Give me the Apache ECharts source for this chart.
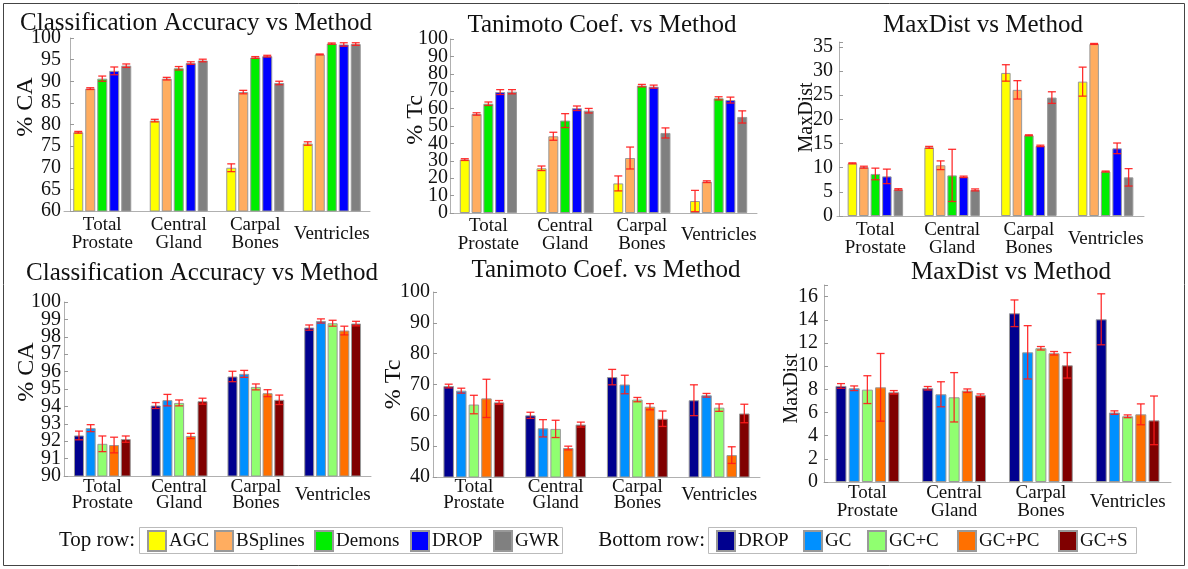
<!DOCTYPE html>
<html>
<head>
<meta charset="utf-8">
<script src="https://cdn.jsdelivr.net/npm/echarts@6/dist/echarts.min.js"></script>
<style>
html,body{margin:0;padding:0;background:#fff;}
#chart{width:1188px;height:569px;}
</style>
</head>
<body>
<div id="chart"></div>
<script>
// ---------------- DATA ----------------
const categories = ['Total\nProstate', 'Central\nGland', 'Carpal\nBones', 'Ventricles'];
const topMethods = ['AGC', 'BSplines', 'Demons', 'DROP', 'GWR'];
const bottomMethods = ['DROP', 'GC', 'GC+C', 'GC+PC', 'GC+S'];

// rows follow the method order, columns follow the categories
const topCAMean = [
  [78.2, 80.9, 70.0, 75.6],
  [88.3, 90.6, 87.5, 96.2],
  [90.6, 93.0, 95.5, 98.7],
  [92.4, 94.2, 95.8, 98.5],
  [93.6, 94.8, 89.6, 98.6]
];
const topCAErr = [
  [0.2, 0.3, 0.9, 0.4],
  [0.2, 0.3, 0.4, 0.1],
  [0.6, 0.4, 0.2, 0.15],
  [0.9, 0.3, 0.2, 0.4],
  [0.4, 0.3, 0.4, 0.3]
];
const topTcMean = [
  [30.7, 25.7, 17.0, 6.9],
  [56.9, 44.1, 31.6, 18.0],
  [62.8, 53.1, 73.2, 65.9],
  [69.5, 60.2, 72.6, 64.9],
  [69.7, 58.8, 46.0, 55.2]
];
const topTcErr = [
  [0.5, 1.3, 4.3, 6.1],
  [0.7, 2.3, 6.3, 0.5],
  [1.0, 4.0, 0.7, 0.9],
  [1.4, 1.3, 0.9, 1.7],
  [1.2, 1.3, 2.9, 3.5]
];
const topMDMean = [
  [10.9, 14.2, 29.6, 27.8],
  [10.1, 10.5, 26.1, 35.6],
  [8.7, 8.4, 16.7, 9.2],
  [8.2, 8.1, 14.5, 14.0],
  [5.5, 5.4, 24.5, 8.0]
];
const topMDErr = [
  [0.1, 0.2, 1.7, 3.0],
  [0.2, 0.9, 1.9, 0.1],
  [1.2, 5.4, 0.1, 0.1],
  [1.5, 0.15, 0.15, 1.1],
  [0.15, 0.2, 1.2, 1.8]
];
const botCAMean = [
  [92.33, 94.05, 95.72, 98.53],
  [92.75, 94.36, 95.87, 98.91],
  [91.85, 94.20, 95.12, 98.78],
  [91.78, 92.30, 94.76, 98.36],
  [92.12, 94.30, 94.38, 98.76]
];
const botCAErr = [
  [0.25, 0.17, 0.3, 0.15],
  [0.2, 0.33, 0.2, 0.12],
  [0.45, 0.17, 0.17, 0.17],
  [0.45, 0.15, 0.2, 0.25],
  [0.18, 0.17, 0.27, 0.13]
];
const botTcMean = [
  [69.5, 60.0, 72.4, 64.9],
  [68.0, 55.8, 70.0, 66.5],
  [63.5, 55.6, 65.1, 62.5],
  [65.5, 49.4, 62.8, 47.1],
  [64.2, 57.0, 58.9, 60.6]
];
const botTcErr = [
  [0.6, 1.0, 2.5, 5.0],
  [0.8, 2.8, 3.0, 0.6],
  [3.0, 2.8, 0.7, 1.2],
  [6.2, 0.6, 1.0, 2.7],
  [0.6, 0.8, 2.5, 3.0]
];
const botMDMean = [
  [8.29, 8.09, 14.56, 14.04],
  [8.09, 7.57, 11.19, 5.99],
  [7.97, 7.31, 11.54, 5.67],
  [8.17, 7.88, 11.11, 5.84],
  [7.74, 7.48, 10.07, 5.32]
];
const botMDErr = [
  [0.2, 0.15, 1.15, 2.2],
  [0.2, 1.08, 2.3, 0.15],
  [1.2, 2.13, 0.15, 0.12],
  [2.92, 0.15, 0.15, 0.9],
  [0.15, 0.12, 1.1, 2.1]
];

// ---------------- STYLE / LAYOUT ----------------
const FONT = 'Liberation Serif';
const topColors = ['#ffff00', '#ffad60', '#00ee00', '#0000ff', '#808080'];
const botColors = ['#00008f', '#0090ff', '#90ff70', '#ff7000', '#800000'];

const panels = [
  {title: 'Classification Accuracy vs Method', tx: 196, ty: 23,
   grid: {left: 64, top: 38, width: 306, height: 173}, axisOffset: -6,
   min: 60, max: 100, interval: 5, yName: '% CA', nameSize: 24, nameGap: 32, namePad: [0, 0, 0, 35],
   labelMargin: 9, xMargin: 23, xLine: 18, barWidth: 10, gap: 0.2,
   mean: topCAMean, err: topCAErr, methods: topMethods, colors: topColors, suffix: ''},
  {title: 'Tanimoto Coef. vs Method', tx: 602, ty: 25,
   grid: {left: 450, top: 39, width: 307, height: 174}, axisOffset: 0,
   min: 0, max: 100, interval: 10, yName: '% Tc', nameSize: 24, nameGap: 22, namePad: [0, 0, 0, 12],
   labelMargin: 2, xMargin: 22, xLine: 18, barWidth: 10, gap: 0.18,
   mean: topTcMean, err: topTcErr, methods: topMethods, colors: topColors, suffix: ''},
  {title: 'MaxDist vs Method', tx: 983, ty: 25,
   grid: {left: 837, top: 42, width: 307, height: 174}, axisOffset: -2,
   min: 0, max: 36, interval: 5, yName: 'MaxDist', nameSize: 20, nameGap: 22, namePad: [0, 0, 0, 23],
   labelMargin: 6, xMargin: 23, xLine: 18, barWidth: 9.5, gap: 0.21,
   mean: topMDMean, err: topMDErr, methods: topMethods, colors: topColors, suffix: ''},
  {title: 'Classification Accuracy vs Method', tx: 202, ty: 273,
   grid: {left: 64, top: 302, width: 307, height: 174}, axisOffset: 0,
   min: 90, max: 100, interval: 1, yName: '% CA', nameSize: 24, nameGap: 25, namePad: [0, 0, 0, 34],
   labelMargin: 3, xMargin: 19, xLine: 16, barWidth: 10, gap: 0.17,
   mean: botCAMean, err: botCAErr, methods: bottomMethods, colors: botColors, suffix: ' '},
  {title: 'Tanimoto Coef. vs Method', tx: 606, ty: 270,
   grid: {left: 433, top: 292, width: 327, height: 185}, axisOffset: 0,
   min: 40, max: 100, interval: 10, yName: '% Tc', nameSize: 24, nameGap: 27, namePad: [0, 0, 0, 0],
   labelMargin: 3, xMargin: 18, xLine: 16, barWidth: 10.5, gap: 0.2,
   mean: botTcMean, err: botTcErr, methods: bottomMethods, colors: botColors, suffix: ' '},
  {title: 'MaxDist vs Method', tx: 1011, ty: 272,
   grid: {left: 824, top: 285, width: 347, height: 197}, axisOffset: 0,
   min: 0, max: 17, interval: 2, yName: 'MaxDist', nameSize: 20, nameGap: 22, namePad: [0, 10, 0, 0],
   labelMargin: 6, xMargin: 20, xLine: 18, barWidth: 11, gap: 0.2,
   mean: botMDMean, err: botMDErr, methods: bottomMethods, colors: botColors, suffix: ' '}
];

const topLegendX = [147, 214, 314, 410, 493];
const botLegendX = [716, 803, 867, 957, 1058];

// ---------------- BUILD ----------------
const option = {
  animation: false,
  backgroundColor: '#ffffff',
  title: [], grid: [], xAxis: [], yAxis: [], series: [], legend: [], graphic: []
};

const labelText = {fontFamily: FONT, fontSize: 20, color: '#111'};

panels.forEach((p, gi) => {
  option.title.push({
    text: p.title, left: p.tx, top: p.ty, textAlign: 'center', textVerticalAlign: 'middle', padding: 0,
    textStyle: {fontFamily: FONT, fontSize: 25, fontWeight: 'normal', color: '#111'}
  });
  option.grid.push(Object.assign({containLabel: false, outerBoundsMode: 'none'}, p.grid));
  option.xAxis.push({
    type: 'category', gridIndex: gi, data: categories,
    axisLine: {show: true, lineStyle: {color: '#b0b0b0', width: 1}},
    axisTick: {show: false},
    splitLine: {show: false},
    axisLabel: {interval: 0, margin: p.xMargin, verticalAlign: 'middle', lineHeight: p.xLine,
      fontFamily: FONT, fontSize: 19, color: '#111'}
  });
  const iv = p.interval;
  const onTick = v => Math.abs(v / iv - Math.round(v / iv)) < 1e-6;
  const isEnd = v => Math.abs(v - p.min) < 1e-9 || Math.abs(v - p.max) < 1e-9;
  // primary axis: line, ticks, name and the two end labels
  option.yAxis.push({
    type: 'value', gridIndex: gi, position: 'left', min: p.min, max: p.max, interval: iv, offset: p.axisOffset,
    name: p.yName, nameLocation: 'middle', nameRotate: 90, nameGap: p.nameGap, nameMoveOverlap: false,
    nameTextStyle: {fontFamily: FONT, fontSize: p.nameSize, color: '#111', padding: p.namePad},
    axisLine: {show: true, lineStyle: {color: '#b0b0b0', width: 1}},
    axisTick: {show: true, inside: true, length: 4, lineStyle: {color: '#999'}},
    splitLine: {show: false},
    axisLabel: Object.assign({margin: p.labelMargin, showMinLabel: true, showMaxLabel: true,
      formatter: v => (isEnd(v) && onTick(v) ? String(v) : '')}, labelText)
  });
  // companion axis on the same scale: the inner tick labels
  option.yAxis.push({
    type: 'value', gridIndex: gi, position: 'left', min: p.min, max: p.max, interval: iv, offset: p.axisOffset,
    axisLine: {show: false}, axisTick: {show: false}, splitLine: {show: false},
    axisLabel: Object.assign({margin: p.labelMargin, showMinLabel: false, showMaxLabel: false,
      formatter: v => (!isEnd(v) && onTick(v) ? String(v) : '')}, labelText)
  });
  const yIdx = gi * 2;
  p.methods.forEach((m, mi) => {
    option.series.push({
      type: 'bar', name: m + p.suffix, xAxisIndex: gi, yAxisIndex: yIdx,
      data: p.mean[mi], barWidth: p.barWidth, barGap: (p.gap * 100) + '%',
      itemStyle: {color: p.colors[mi], borderColor: '#999999', borderWidth: 1},
      emphasis: {disabled: true}, silent: true
    });
  });
  const errData = [];
  p.methods.forEach((m, mi) => p.mean[mi].forEach((v, ci) => errData.push([ci, v, p.err[mi][ci], mi])));
  const n = p.methods.length;
  const pitch = p.barWidth * (1 + p.gap);
  option.series.push({
    type: 'custom', name: 'err' + gi, xAxisIndex: gi, yAxisIndex: yIdx, z: 5, silent: true,
    data: errData, encode: {x: 0, y: 1},
    renderItem: function (params, api) {
      const ci = api.value(0), v = api.value(1), e = api.value(2), mi = api.value(3);
      const c = api.coord([ci, v]);
      const x = c[0] + (mi - (n - 1) / 2) * pitch;
      const yHi = api.coord([ci, v + e])[1];
      const yLo = api.coord([ci, v - e])[1];
      const cap = 4;
      const style = {stroke: '#ff1a1a', lineWidth: 1.3, opacity: 0.9};
      return {type: 'group', children: [
        {type: 'line', shape: {x1: x, y1: yHi, x2: x, y2: yLo}, style: style},
        {type: 'line', shape: {x1: x - cap, y1: yHi, x2: x + cap, y2: yHi}, style: style},
        {type: 'line', shape: {x1: x - cap, y1: yLo, x2: x + cap, y2: yLo}, style: style}
      ]};
    }
  });
});

function legendItem(name, x) {
  return {
    data: [name], left: x, top: 530, orient: 'horizontal', padding: 0,
    itemWidth: 18, itemHeight: 20, itemGap: 0, icon: 'rect', selectedMode: false,
    formatter: nm => nm.trim(),
    textStyle: {fontFamily: FONT, fontSize: 19, color: '#111', padding: [0, 0, 0, -2]}
  };
}
topMethods.forEach((m, i) => option.legend.push(legendItem(m, topLegendX[i])));
bottomMethods.forEach((m, i) => option.legend.push(legendItem(m + ' ', botLegendX[i])));

option.graphic = [
  {type: 'rect', shape: {x: 3.5, y: 3.5, width: 1181, height: 562}, style: {fill: 'none', stroke: '#444', lineWidth: 1}, silent: true},
  {type: 'rect', shape: {x: 139.5, y: 527.5, width: 423, height: 26}, style: {fill: 'none', stroke: '#bbbbbb', lineWidth: 1}, silent: true},
  {type: 'rect', shape: {x: 708.5, y: 527.5, width: 428, height: 26}, style: {fill: 'none', stroke: '#bbbbbb', lineWidth: 1}, silent: true},
  {type: 'text', x: 135, y: 540, silent: true,
   style: {text: 'Top row:', fontFamily: FONT, fontSize: 21, fill: '#111', align: 'right', verticalAlign: 'middle'}},
  {type: 'text', x: 705, y: 540, silent: true,
   style: {text: 'Bottom row:', fontFamily: FONT, fontSize: 21, fill: '#111', align: 'right', verticalAlign: 'middle'}}
];

const chart = echarts.init(document.getElementById('chart'), null, {renderer: 'canvas'});
chart.setOption(option);
</script>
</body>
</html>
